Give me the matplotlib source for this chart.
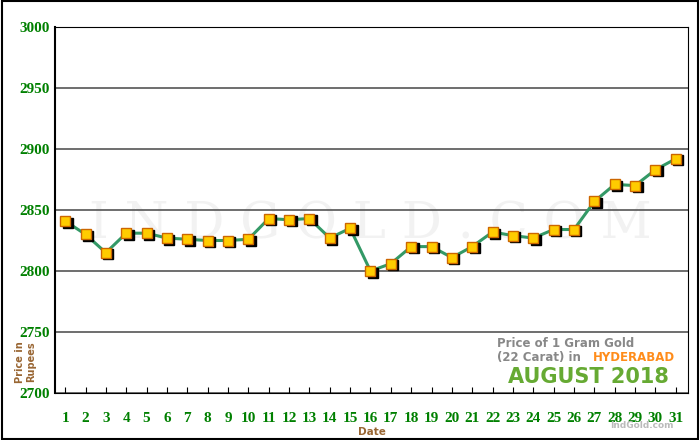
import matplotlib
matplotlib.use("Agg")
import matplotlib.pyplot as plt
from matplotlib.patches import Rectangle

days = list(range(1, 32))
prices = [2841, 2830, 2815, 2831, 2831, 2827, 2826, 2825, 2825, 2826,
          2843, 2842, 2843, 2827, 2835, 2800, 2806, 2820, 2820, 2811,
          2820, 2832, 2829, 2827, 2834, 2834, 2857, 2871, 2870, 2883, 2892]
y_ticks = [2700, 2750, 2800, 2850, 2900, 2950, 3000]

fig = plt.figure(figsize=(7, 4.4), dpi=100)
fig.patches.append(Rectangle((0.003, 0.003), 0.994, 0.994, transform=fig.transFigure,
                             fill=False, edgecolor="black", linewidth=1.5))
ax = fig.add_axes([55 / 700, 47 / 440, 633 / 700, 366 / 440])

ax.set_xlim(0.5, 31.6)
ax.set_ylim(2700, 3000)
ax.set_yticks(y_ticks)
ax.set_xticks(days)
for t in y_ticks[:-1]:
    ax.axhline(t, color="#555555", linewidth=1.2, zorder=1)

ax.text(16, 2838, "I N D G O L D . C O M", fontsize=36, family="DejaVu Serif",
        color="#f2f2f2", ha="center", va="center", zorder=0)

ax.plot(days, prices, color="#339966", linewidth=2.2, zorder=2)
# marker shadow
ax.plot([d + 0.12 for d in days], [p - 1.3 for p in prices], linestyle="none",
        marker="s", markersize=7, color="black", zorder=3)
ax.plot(days, prices, linestyle="none", marker="s", markersize=7,
        markerfacecolor="#ffcc00", markeredgecolor="#cc6600", markeredgewidth=1, zorder=4)

ax.tick_params(axis="both", colors="black", labelcolor="#008000",
               length=4, direction="in")
ax.tick_params(axis="y", length=0, pad=4)
ax.tick_params(axis="x", pad=14)
for lbl in ax.get_xticklabels() + ax.get_yticklabels():
    lbl.set_fontfamily("Liberation Serif")
    lbl.set_fontweight("bold")
    lbl.set_fontsize(11)
for s in ["top", "right"]:
    ax.spines[s].set_color("black")
ax.spines["left"].set_linewidth(1.5)

ax.set_xlabel("Date", color="#996633", fontweight="bold", fontsize=7.5, labelpad=1)
fig.text(0.037, 0.178, "Price in\nRupees", rotation=90, color="#996633",
         fontweight="bold", fontsize=7, ha="center", va="center", linespacing=1.1)

fig.text(0.71, 0.22, "Price of 1 Gram Gold", color="#888888", fontweight="bold",
         fontsize=8.5, ha="left", va="center")
fig.text(0.71, 0.188, "(22 Carat) in ", color="#888888", fontweight="bold",
         fontsize=8.5, ha="left", va="center")
fig.text(0.965, 0.188, "HYDERABAD", color="#ff8c1a", fontweight="bold",
         fontsize=8.5, ha="right", va="center")
fig.text(0.955, 0.143, "AUGUST 2018", color="#66aa33", fontweight="bold",
         fontsize=15, ha="right", va="center")
fig.text(0.962, 0.034, "IndGold.com", color="#bbbbbb", fontweight="bold",
         fontsize=6.5, ha="right", va="center")

fig.savefig("out.png", dpi=100)
